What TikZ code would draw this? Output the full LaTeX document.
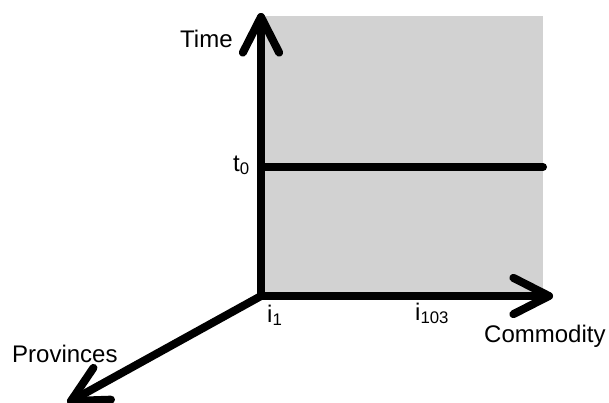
\documentclass[tikz,border=0pt]{standalone}
\usepackage{fontspec}
\setmainfont{Liberation Sans}
\usetikzlibrary{calc}
\definecolor{areagrey}{RGB}{210,210,210}
\begin{document}
\begin{tikzpicture}[x=1pt,y=1pt,
  axis/.style={line width=8pt,line cap=round,line join=round},
  chev/.style={line width=8pt,line cap=round,line join=round},
  lbl/.style={inner sep=0pt,anchor=base west,font=\fontsize{24}{28}\selectfont}]
\useasboundingbox (0,0) rectangle (609,-402);
\fill[areagrey] (261,-16) rectangle (543,-296);
\coordinate (O) at (261,-296);
\coordinate (TV) at (261,-17);
\coordinate (TH) at (549,-296);
\coordinate (TP) at (71,-401);
\coordinate (L0) at (261,-167);
\coordinate (L1) at (543,-167);
\draw[axis] (L0) -- (L1);
\draw[axis] (O) -- (TV);
\draw[axis] (O) -- (TH);
\draw[axis] (O) -- (TP);
\draw[chev] ($(TV)!40pt!27:(O)$) -- (TV) -- ($(TV)!40pt!-27:(O)$);
\draw[chev] ($(TH)!40pt!27:(O)$) -- (TH) -- ($(TH)!40pt!-27:(O)$);
\draw[chev] ($(TP)!40pt!27:(O)$) -- (TP) -- ($(TP)!40pt!-27:(O)$);
\node[lbl] (time) at (180,-47) {Time};
\node[lbl] (t0) at (233,-171) {t\textsubscript{0}};
\node[lbl] (i1) at (267,-322) {i\textsubscript{1}};
\node[lbl] (i103) at (415,-320) {i\textsubscript{103}};
\node[lbl] (com) at (484,-342) {Commodity};
\node[lbl] (prov) at (12,-362) {Provinces};
\end{tikzpicture}
\end{document}
